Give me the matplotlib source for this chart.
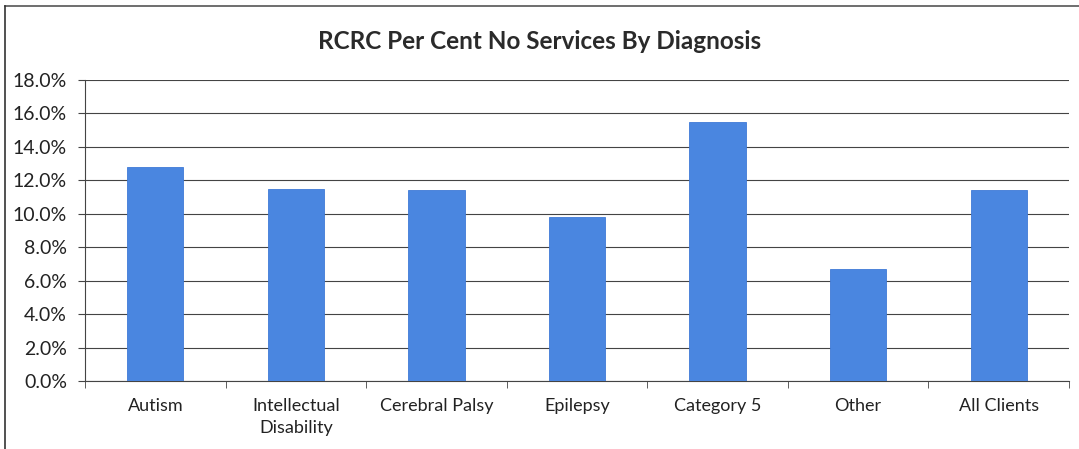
import numpy as np
import matplotlib.pyplot as plt
from matplotlib.ticker import FuncFormatter, FixedLocator

categories = ["Autism", "Intellectual\nDisability", "Cerebral Palsy", "Epilepsy",
              "Category 5", "Other", "All Clients"]
pct_no_services = [12.8, 11.5, 11.4, 9.8, 15.5, 6.7, 11.4]

plt.rcParams['font.family'] = ['Lato', 'DejaVu Sans']

fig = plt.figure(figsize=(10.79, 4.49), dpi=100)
ax = fig.add_axes([0.0788, 0.1514, 0.9119, 0.6704])

x = np.arange(len(categories))
ax.bar(x, pct_no_services, width=0.4, color="#4A86E0", edgecolor="#3F7AD6", linewidth=0.6, zorder=3)

ax.set_xlim(-0.5, len(categories) - 0.5)
ax.set_ylim(0, 18)
ax.set_yticks(np.arange(0, 18.1, 2))
ax.yaxis.set_major_formatter(FuncFormatter(lambda v, p: f"{v:.1f}%"))
ax.grid(axis="y", color="#444444", linewidth=0.8, zorder=0)

# category labels in the middle, tick marks between categories
ax.set_xticks(x)
ax.set_xticklabels(categories, fontsize=13, color="#222222", linespacing=1.45)
ax.tick_params(axis="x", which="major", length=0, pad=12)
ax.xaxis.set_minor_locator(FixedLocator(np.arange(-0.5, len(categories), 1)))
ax.tick_params(axis="x", which="minor", length=5, direction="out", color="#444444")
ax.tick_params(axis="y", length=5, direction="out", color="#444444", labelsize=14,
               labelcolor="#222222", pad=8)

for side in ["top", "right"]:
    ax.spines[side].set_visible(False)
ax.spines["left"].set_color("#444444")
ax.spines["bottom"].set_color("#444444")
ax.spines["left"].set_linewidth(0.8)
ax.spines["bottom"].set_linewidth(0.8)

fig.text(0.5, 0.907, "RCRC Per Cent No Services By Diagnosis", ha="center", va="center",
         fontsize=17.5, fontweight="bold", color="#2a2a2a")

# outer chart frame (top and left edges visible in the scan)
fig.add_artist(plt.Line2D([0.005, 1.0], [0.987, 0.987], transform=fig.transFigure, color="#555555", linewidth=1.2))
fig.add_artist(plt.Line2D([0.005, 0.005], [0.0, 0.987], transform=fig.transFigure, color="#333333", linewidth=1.2))

fig.savefig("out.png", dpi=100)
